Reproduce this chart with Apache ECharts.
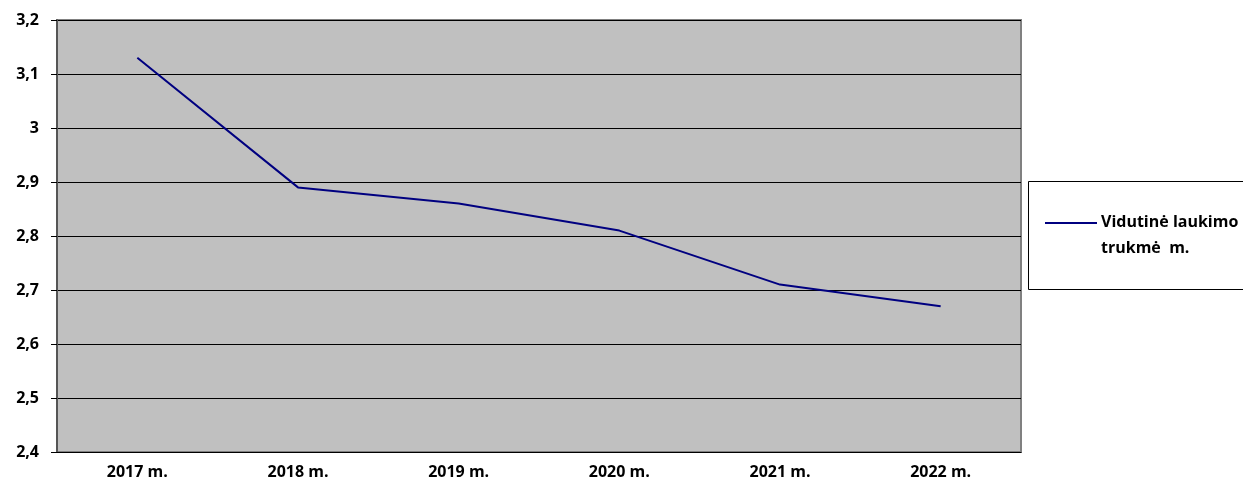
<!DOCTYPE html>
<html>
<head>
<meta charset="utf-8">
<script src="https://cdn.jsdelivr.net/npm/echarts@6/dist/echarts.min.js"></script>
<style>
  html, body { margin: 0; padding: 0; background: #fff; }
  #myChart { width: 1243px; height: 488px; }
</style>
</head>
<body>
<div id="myChart"></div>
<script>
  // duomenys
  var years = ['2017 m.', '2018 m.', '2019 m.', '2020 m.', '2021 m.', '2022 m.'];
  var waitTime = [3.13, 2.89, 2.86, 2.81, 2.71, 2.67];
  var seriesName = 'Vidutinė laukimo trukmė  m.';

  var font = '"Open Sans", "Noto Sans", sans-serif';
  var myChart = echarts.init(document.getElementById('myChart'));

  myChart.setOption({
    animation: false,
    grid: {
      left: 57, right: 222, top: 20, bottom: 36,
      show: true,
      backgroundColor: '#C0C0C0',
      borderColor: '#808080',
      borderWidth: 2
    },
    xAxis: {
      type: 'category',
      data: years,
      boundaryGap: true,
      axisLine: { lineStyle: { color: '#000', width: 1 } },
      axisTick: { length: 6, lineStyle: { color: '#000' } },
      axisLabel: { margin: 12, color: '#000', fontFamily: font, fontWeight: 'bold', fontSize: 16 }
    },
    yAxis: {
      type: 'value',
      min: 2.4, max: 3.2, interval: 0.1,
      axisLine: { show: true, lineStyle: { color: '#555', width: 2 } },
      axisTick: { show: true, length: 6, lineStyle: { color: '#000' } },
      splitLine: { lineStyle: { color: '#000', width: 1 } },
      axisLabel: {
        margin: 18, color: '#000', fontFamily: font, fontWeight: 'bold', fontSize: 16,
        formatter: function (v) { return (Math.round(v * 10) / 10).toString().replace('.', ','); }
      }
    },
    legend: { show: false },
    graphic: [
      {
        type: 'rect',
        shape: { x: 1028.5, y: 181.5, width: 230, height: 108 },
        style: { fill: '#fff', stroke: '#000', lineWidth: 1 }
      },
      {
        type: 'line',
        shape: { x1: 1045, y1: 223, x2: 1097, y2: 223 },
        style: { stroke: '#000080', lineWidth: 2 }
      },
      {
        type: 'text',
        x: 1101, y: 209,
        style: {
          text: 'Vidutinė laukimo\ntrukmė  m.',
          font: 'bold 16px ' + font,
          fill: '#000',
          lineHeight: 26,
          verticalAlign: 'top'
        }
      }
    ],
    series: [
      {
        name: seriesName,
        type: 'line',
        data: waitTime,
        symbol: 'none',
        lineStyle: { color: '#000080', width: 2 },
        itemStyle: { color: '#000080' }
      }
    ]
  });
</script>
</body>
</html>
